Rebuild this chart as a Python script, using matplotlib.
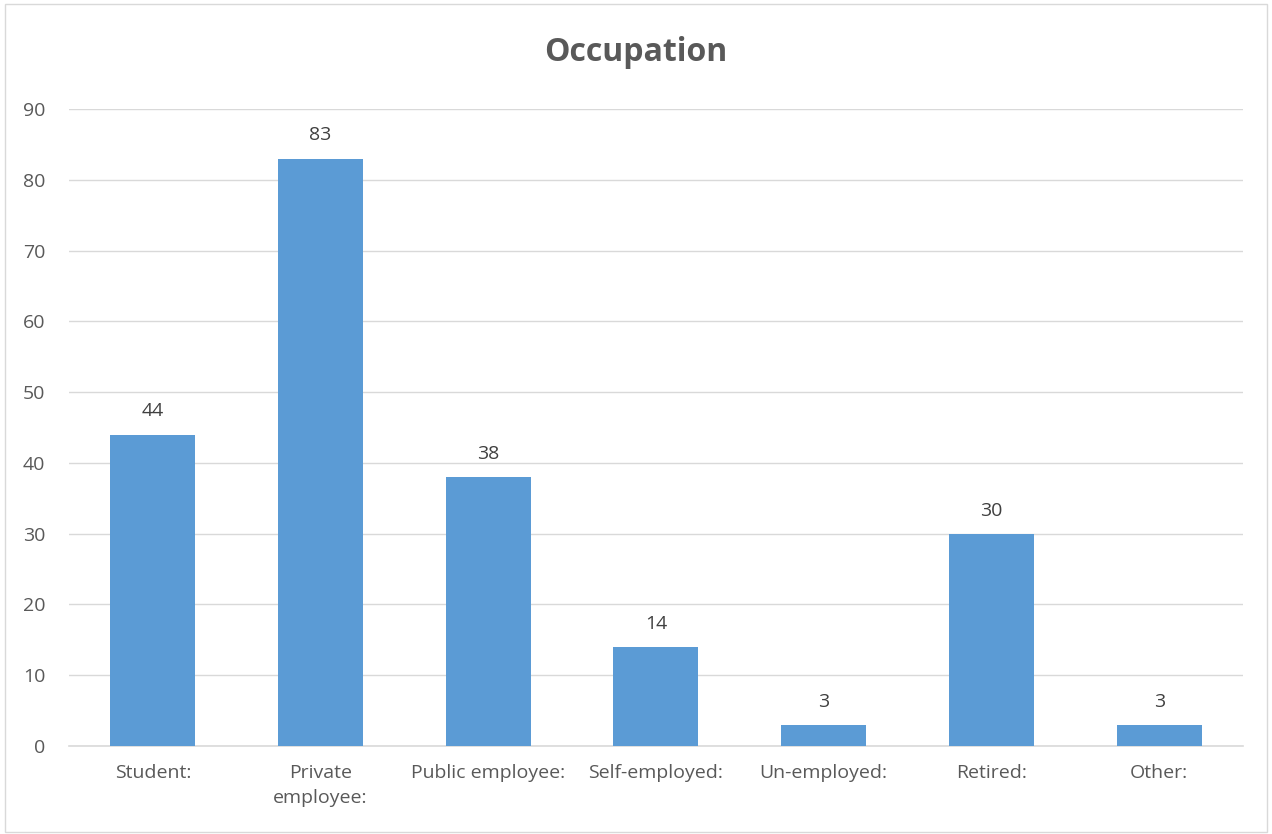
import matplotlib.pyplot as plt
import numpy as np

categories = ["Student:", "Private\nemployee:", "Public employee:", "Self-employed:",
              "Un-employed:", "Retired:", "Other:"]
counts = [44, 83, 38, 14, 3, 30, 3]

plt.rcParams['font.family'] = ['Open Sans', 'DejaVu Sans']
txt = "#595959"

fig = plt.figure(figsize=(12.72, 8.34), dpi=100)
# light outer border like the chart frame
fig.patches.append(plt.Rectangle((0.004, 0.002), 0.992, 0.993, transform=fig.transFigure,
                                 fill=False, edgecolor="#d9d9d9", linewidth=1))
ax = fig.add_axes([0.0542, 0.1055, 0.923, 0.7638])

x = np.arange(len(categories))
bars = ax.bar(x, counts, width=0.507, color="#5B9BD5", zorder=3)
for b, v in zip(bars, counts):
    ax.text(b.get_x() + b.get_width() / 2, v + 2.0, str(v), ha="center", va="bottom",
            fontsize=14, color="#404040")

ax.set_xlim(-0.5, len(categories) - 0.5)
ax.set_ylim(0, 90)
ax.set_yticks(range(0, 91, 10))
ax.yaxis.grid(True, color="#d9d9d9", linewidth=1, zorder=0)
ax.set_xticks(x)
ax.set_xticklabels(categories, linespacing=1.5)
ax.tick_params(axis="both", length=0, labelsize=14, labelcolor=txt)
ax.tick_params(axis="x", pad=13)
ax.tick_params(axis="y", pad=17)
for s in ["top", "right", "left"]:
    ax.spines[s].set_visible(False)
ax.spines["bottom"].set_color("#d9d9d9")
ax.spines["bottom"].set_linewidth(1.2)

fig.text(0.5, 0.937, "Occupation", ha="center", va="center", fontsize=23,
         fontweight="bold", color=txt)

fig.savefig("out.png", dpi=100)
